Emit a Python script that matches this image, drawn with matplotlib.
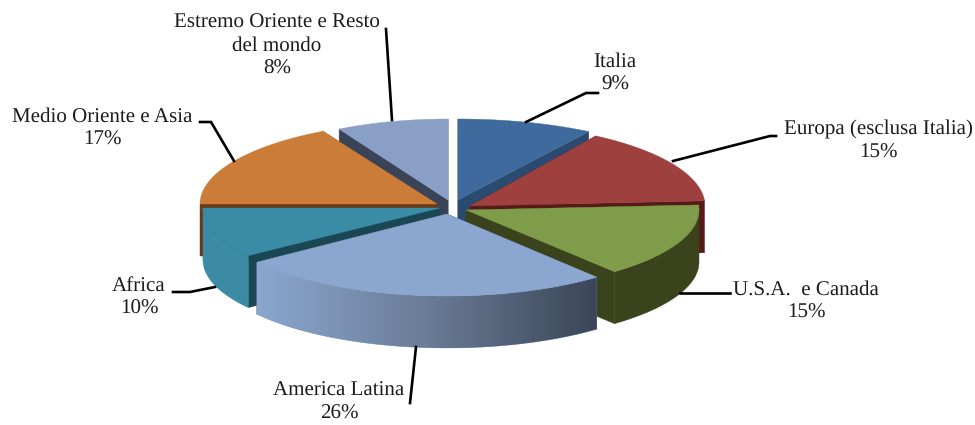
"""Exploded 3D-look pie of regional shares, drawn on a pixel-sized axes."""
import matplotlib
matplotlib.use("Agg")
import matplotlib.pyplot as plt
from matplotlib.colors import LinearSegmentedColormap
from matplotlib.patches import Polygon
import numpy as np

plt.rcParams["font.family"] = ["Liberation Serif", "DejaVu Serif"]
plt.rcParams["text.hinting"] = "no_hinting"
plt.rcParams["text.hinting_factor"] = 1

names = ["Italia", "Europa (esclusa Italia)", "U.S.A.  e Canada", "America Latina",
         "Africa", "Medio Oriente e Asia", "Estremo Oriente e Resto\ndel mondo"]
shares = [9, 15, 15, 26, 10, 17, 8]

top_colors = ["#3F6A9E", "#9E413E", "#7F9C4A", "#8BA7CF", "#3A8CA6", "#CB7C38", "#8A9FC6"]
cut_colors = ["#2A4A70", "#561B19", "#3A431C", "#3A4658", "#1B4754", "#6B3A14", "#3A4459"]
rim_colors = ["#2F5078", "#6B1F1D", "#3A431C", "#8BA7CF", "#3A8BA3", "#6B3A14", "#3A4459"]

# layout of the slices in pixels
apex_x = [458, 470, 466, 447, 440, 437, 448]
apex_y = [200, 206, 210, 214, 208, 204, 200]
rad_x = [244, 235, 233, 235, 237, 237, 226]
rad_y = [81, 83, 80, 82, 81, 83, 81]
depth = 52
draw_order = [6, 0, 5, 1, 4, 2, 3]

label_x = [615, 878, 806, 339, 139, 102, 277]
label_y = [73, 141, 301, 402, 297, 128, 46]
leaders = [
    [(526, 122), (586, 93), (598, 93)],
    [(673, 161), (770, 136), (776, 136)],
    [(680, 293), (730, 293)],
    [(416, 347), (410, 403)],
    [(215, 287), (190, 292), (173, 292)],
    [(234, 161), (211, 122), (200, 122)],
    [(392, 120), (386, 29)],
]

fig = plt.figure(figsize=(9.75, 4.25), dpi=100)
ax = fig.add_axes([0, 0, 1, 1])
ax.axis("off")

edges = np.cumsum([0] + shares) / sum(shares) * 360


def rim(i, t):
    t = np.radians(t)
    return apex_x[i] + rad_x[i] * np.sin(t), apex_y[i] - rad_y[i] * np.cos(t)


def draw_slice(i, z):
    t0, t1 = edges[i], edges[i + 1]
    xs, ys = rim(i, np.linspace(t0, t1, 90))

    # the two cut faces
    for t in (t0, t1):
        x, y = rim(i, t)
        cut = [(apex_x[i], apex_y[i]), (x, y), (x, y + depth), (apex_x[i], apex_y[i] + depth)]
        ax.add_patch(Polygon(cut, fc=cut_colors[i], ec=cut_colors[i], lw=0.3, zorder=z))

    # outer wall, only the front half of the ellipse shows
    lo, hi = max(t0, 90), min(t1, 270)
    if hi > lo:
        wx, wy = rim(i, np.linspace(lo, hi, 90))
        wall = np.r_[np.c_[wx, wy], np.c_[wx, wy + depth][::-1]]
        patch = Polygon(wall, fc=rim_colors[i], ec=rim_colors[i], lw=0.3, zorder=z + 0.1)
        ax.add_patch(patch)
        if names[i] == "America Latina":
            cmap = LinearSegmentedColormap.from_list("side", ["#8BA7CF", "#6A7C96", "#3A4658"])
            im = ax.imshow(np.linspace(0, 1, 256)[None, :], cmap=cmap, aspect="auto",
                           extent=[wx.min(), wx.max(), wy.max() + depth, wy.min()], zorder=z + 0.2)
            im.set_clip_path(patch)

    face = np.r_[[(apex_x[i], apex_y[i])], np.c_[xs, ys]]
    ax.add_patch(Polygon(face, fc=top_colors[i], ec=top_colors[i], lw=0.3, zorder=z + 0.3))


# nearer slices go on top of farther ones
for pos, i in enumerate(draw_order):
    draw_slice(i, pos + 1)

ax.set_xlim(0, 975)
ax.set_ylim(425, 0)

for line in leaders:
    lx, ly = zip(*line)
    ax.plot(lx, ly, color="black", lw=1.9, zorder=50, solid_joinstyle="miter")

for name, share, x, y in zip(names, shares, label_x, label_y):
    ax.text(x, y, f"{name}\n{share}%", ha="center", va="center", fontsize=15.4,
            color="#1c1c1c", linespacing=1.26, zorder=60)

fig.savefig("out.png", dpi=100)
